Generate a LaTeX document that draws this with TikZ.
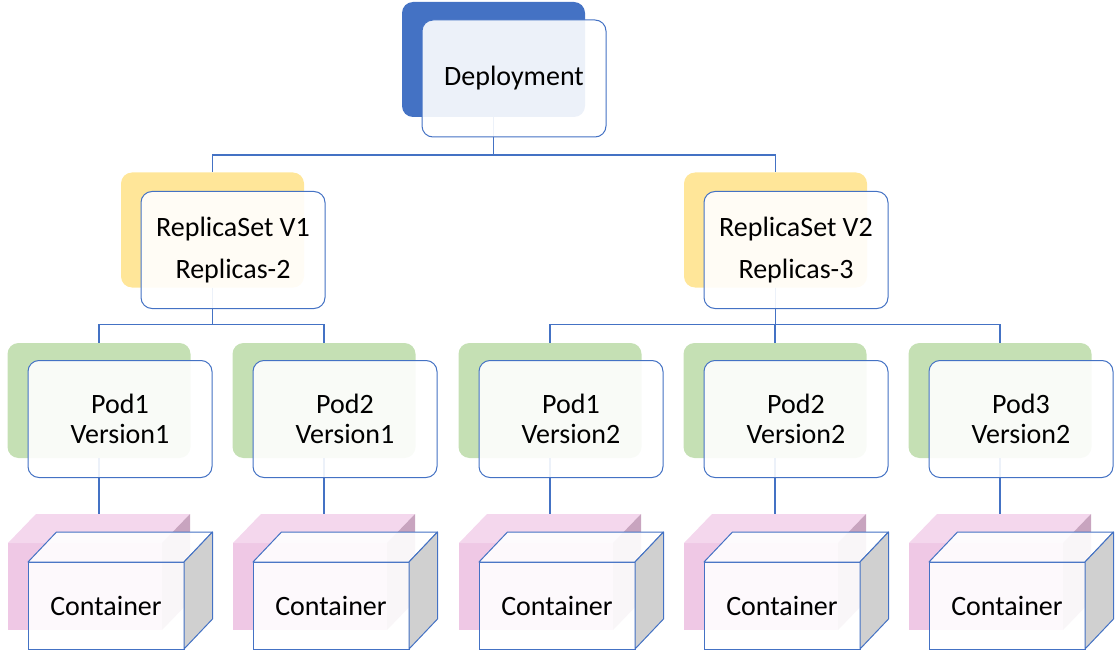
\documentclass[tikz,border=0pt]{standalone}
\usepackage{fontspec}
\setmainfont{Carlito}
\usetikzlibrary{calc}
\definecolor{bl}{HTML}{4472C4}
\definecolor{ye}{HTML}{FFE699}
\definecolor{gr}{HTML}{C5E0B4}
\definecolor{pkf}{HTML}{EFC8E5}
\definecolor{pkt}{HTML}{F4D7ED}
\definecolor{pkr}{HTML}{C8A4BF}
\definecolor{gyr}{HTML}{D0D0D0}
\begin{document}
\begin{tikzpicture}[x=1pt,y=-1pt,
  back/.style={rounded corners=11pt, minimum width=183pt, minimum height=115pt, inner sep=0pt, outer sep=0pt},
  front/.style={draw=bl, line width=1pt, fill=white, fill opacity=0.9, text opacity=1, rounded corners=11pt, minimum width=184pt, minimum height=117pt, inner sep=0pt, outer sep=0pt, align=center, font=\fontsize{28}{30}\selectfont},
  rsfont/.style={font=\fontsize{28}{42}\selectfont},
  conn/.style={draw=bl, line width=1.1pt},
  cubeback/.style={fill=pkf, minimum width=154pt, minimum height=87pt, inner sep=0pt, outer sep=0pt},
  cubefront/.style={draw=bl, line width=1pt, fill=white, fill opacity=0.9, text opacity=1, minimum width=156pt, minimum height=87pt, inner sep=0pt, outer sep=0pt, font=\fontsize{28}{30}\selectfont},
  cubeface/.style={draw=bl, line width=1pt, line join=round},
]
\useasboundingbox (0,0) rectangle (1120,650);

% back boxes
\node[back, fill=bl] (depB) at (493.5,59.5) {};
\node[back, fill=ye] (rs1B) at (212.5,230) {};
\node[back, fill=ye] (rs2B) at (775.5,230) {};
\node[back, fill=gr] (p1B) at (99,400.5) {};
\node[back, fill=gr] (p2B) at (324,400.5) {};
\node[back, fill=gr] (p3B) at (550,400.5) {};
\node[back, fill=gr] (p4B) at (775,400.5) {};
\node[back, fill=gr] (p5B) at (1000,400.5) {};

% back cubes
\foreach \i/\xo in {1/8,2/233,3/459,4/684,5/909}{
  \node[cubeback] (cb\i) at (\xo+77,586.5) {};
  \fill[pkt] (cb\i.north west) -- ++(28,-29) -- ++(154,0) -- (cb\i.north east) -- cycle;
  \fill[pkr] (cb\i.north east) -- ++(28,-29) -- ++(0,87) -- (cb\i.south east) -- cycle;
  \coordinate (k\i) at ($(cb\i.north west)+(0,-29)$);
}

% connectors
\draw[conn] (depB.south) -- ++(0,38) -| (rs1B.north);
\draw[conn] (depB.south) -- ++(0,38) -| (rs2B.north);
\draw[conn] (rs1B.south) -- ++(0,37) -| (p1B.north);
\draw[conn] (rs1B.south) -- ++(0,37) -| (p2B.north);
\draw[conn] (rs2B.south) -- ++(0,37) -| (p3B.north);
\draw[conn] (rs2B.south) -- ++(0,37) -| (p4B.north);
\draw[conn] (rs2B.south) -- ++(0,37) -| (p5B.north);
\foreach \i in {1,...,5}{
  \draw[conn] (p\i B.south) -- (p\i B.south |- k\i);
}

% front boxes
\node[front] (dep) at (514,78.5) {Deployment};
\node[front, rsfont] (rs1) at (233,250) {ReplicaSet V1\\Replicas-2};
\node[front, rsfont] (rs2) at (796,250) {ReplicaSet V2\\Replicas-3};
\node[front] (p1) at (120,419) {Pod1\\Version1};
\node[front] (p2) at (345,419) {Pod2\\Version1};
\node[front] (p3) at (571,419) {Pod1\\Version2};
\node[front] (p4) at (796,419) {Pod2\\Version2};
\node[front] (p5) at (1021,419) {Pod3\\Version2};

% front cubes
\foreach \i/\xo in {1/8,2/233,3/459,4/684,5/909}{
  \node[cubefront] (c\i) at (\xo+98,605.5) {Container};
  \filldraw[cubeface, fill=white, fill opacity=0.9] (c\i.north west) -- ++(28.5,-30) -- ++(156,0) -- (c\i.north east) -- cycle;
  \filldraw[cubeface, fill=gyr] (c\i.north east) -- ++(28.5,-30) -- ++(0,87) -- (c\i.south east) -- cycle;
}
\end{tikzpicture}
\end{document}
